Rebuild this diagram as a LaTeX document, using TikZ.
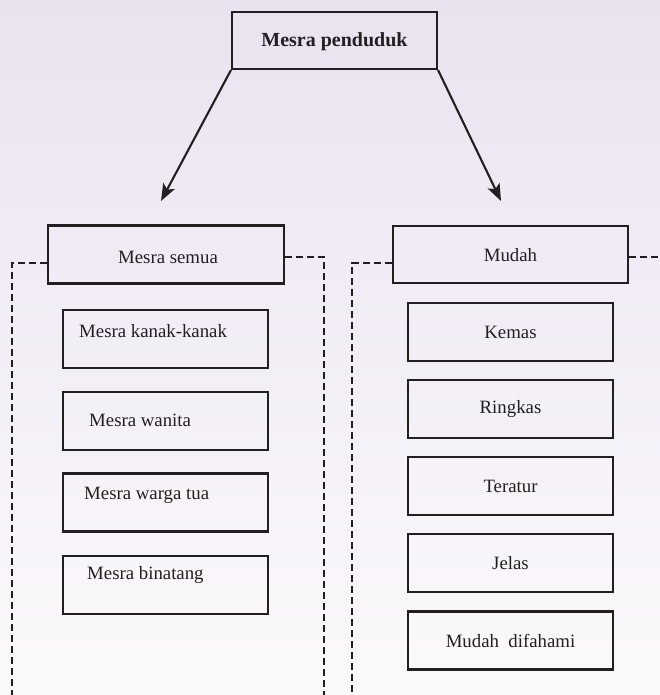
\documentclass[tikz,border=0pt]{standalone}
\usepackage{fontspec}
\setmainfont{Liberation Serif}
\usetikzlibrary{arrows.meta}
\definecolor{bgtop}{RGB}{233,227,240}
\definecolor{bgmid}{RGB}{245,236,243}
\definecolor{bgbot}{RGB}{252,249,252}
\definecolor{ink}{RGB}{35,31,32}
\tikzset{
  box/.style={draw=ink, line width=2.1pt, rectangle, inner sep=0pt},
  txt/.style={font=\fontsize{18.8}{20}\selectfont, text=ink, inner sep=0pt},
  dline/.style={draw=ink, line width=2pt, dash pattern=on 7pt off 4pt},
  arr/.style={draw=ink, line width=2.1pt, -{Stealth[length=17pt,width=13pt,inset=4pt]}}
}
\begin{document}
\begin{tikzpicture}[x=1pt,y=-1pt]
\useasboundingbox (0,0) rectangle (660,695);
\shade[top color=bgtop, middle color=bgmid, bottom color=bgbot] (0,0) rectangle (660,695);
% top
\node[box, minimum width=205pt, minimum height=57pt] (top) at (334.5,40.5) {};
\node[txt, font=\fontsize{20}{22}\selectfont\bfseries] (toptxt) at (334.5,42) {Mesra penduduk};
\coordinate (lt) at (161,201);
\coordinate (rt) at (501,201);
\draw[arr] (top.south west) -- (lt);
\draw[arr] (top.south east) -- (rt);
% left group
\node[box, minimum width=236pt, minimum height=58pt] (ms) at (166,254.5) {};
\node[txt] (mstxt) at (168,257) {Mesra semua};
\coordinate (l1) at (12,263);
\coordinate (l2) at (12,697);
\coordinate (r1) at (324,257);
\coordinate (r2) at (324,697);
\draw[dline] (ms.west |- l1) -- (l1) -- (l2);
\draw[dline] (ms.east |- r1) -- (r1) -- (r2);
\node[box, minimum width=205pt, minimum height=58pt] (k1) at (165.5,339) {};
\node[txt, anchor=west] (k1t) at (79,331) {Mesra kanak-kanak};
\node[box, minimum width=205pt, minimum height=58pt] (k2) at (165.5,421) {};
\node[txt, anchor=west] (k2t) at (89,420) {Mesra wanita};
\node[box, minimum width=205pt, minimum height=58pt] (k3) at (165.5,502.5) {};
\node[txt, anchor=west] (k3t) at (84,495) {Mesra warga tua};
\node[box, minimum width=205pt, minimum height=58pt] (k4) at (165.5,585) {};
\node[txt, anchor=west] (k4t) at (87,575) {Mesra binatang};
% right group
\node[box, minimum width=235pt, minimum height=57pt] (md) at (510.5,254.5) {};
\node[txt] (mdtxt) at (510.5,255) {Mudah};
\coordinate (m1) at (352,263);
\coordinate (m2) at (352,697);
\coordinate (n1) at (662,257);
\draw[dline] (md.west |- m1) -- (m1) -- (m2);
\draw[dline] (md.east |- n1) -- (n1);
\node[box, minimum width=205pt, minimum height=58pt] (j1) at (510.5,332) {};
\node[txt] at (j1) {Kemas};
\node[box, minimum width=205pt, minimum height=58pt] (j2) at (510.5,409) {};
\node[txt] at (j2) {Ringkas};
\node[box, minimum width=205pt, minimum height=58pt] (j3) at (510.5,486) {};
\node[txt] at (j3) {Teratur};
\node[box, minimum width=205pt, minimum height=58pt] (j4) at (510.5,563) {};
\node[txt] at (j4) {Jelas};
\node[box, minimum width=205pt, minimum height=58pt] (j5) at (510.5,640.5) {};
\node[txt] at (j5) {Mudah\ \ difahami};
\end{tikzpicture}
\end{document}
